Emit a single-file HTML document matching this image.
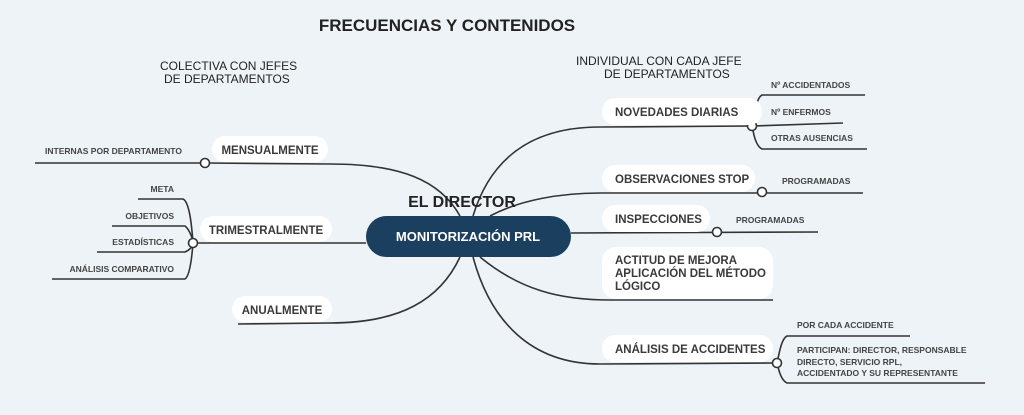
<!DOCTYPE html>
<html><head><meta charset="utf-8"><style>
body{margin:0;background:#eef3f7;}
svg{display:block;font-family:"Liberation Sans",sans-serif;}
.p{fill:#fff;}
.t{font-size:11.5px;font-weight:bold;fill:#3a3a3a;}
.s{font-size:8.5px;font-weight:bold;fill:#444;}
.l{fill:none;stroke:#333;stroke-width:1.6;}
.c{fill:#fff;stroke:#333;stroke-width:1.6;}
</style></head><body>
<svg width="1024" height="415" viewBox="0 0 1024 415">
<rect width="1024" height="415" fill="#eef3f7"/>
<text x="447" y="31" text-anchor="middle" font-size="17" font-weight="bold" fill="#222">FRECUENCIAS Y CONTENIDOS</text>
<text x="160" y="70" font-size="12" fill="#222">COLECTIVA CON JEFES</text>
<text x="164" y="83" font-size="12" fill="#222">DE DEPARTAMENTOS</text>
<text x="576" y="65" font-size="12" fill="#222">INDIVIDUAL CON CADA JEFE</text>
<text x="604" y="78" font-size="12" fill="#222">DE DEPARTAMENTOS</text>

<!-- connectors -->
<path class="l" d="M460 216 C440 180 400 164 330 164 L205 163"/>
<path class="l" d="M366 243 L193 243"/>
<path class="l" d="M460 257 C440 300 400 323 330 323 L238 324"/>
<path class="l" d="M473 216 C490 160 530 127 600 127 L752 126"/>
<path class="l" d="M490 216 C520 200 560 193 600 193 L863 193"/>
<path class="l" d="M571 233 L818 232"/>
<path class="l" d="M480 257 C520 290 560 300 610 300 L773 300"/>
<path class="l" d="M473 257 C490 320 530 364 600 364 L777 363"/>

<!-- sub branches -->
<path class="l" d="M35 163 L205 163"/>
<path class="l" d="M138 199 L183 199 C190 202 192 230 193 243 C192 256 190 276 185 279 L52 279"/>
<path class="l" d="M112 226 L185 226 C190 230 193 240 193 243"/>
<path class="l" d="M97 252 L185 252 C190 250 193 246 193 243"/>
<path class="l" d="M865 95 L762 95 C756 98 754 116 752 126 C754 136 756 146 762 149 L867 149"/>
<path class="l" d="M843 123 L752 126"/>
<path class="l" d="M910 336 L787 336 C781 339 779 355 777 363 C779 371 781 380 787 383 L985 383"/>

<circle class="c" cx="205" cy="163" r="4.5"/>
<circle class="c" cx="193" cy="243" r="4.5"/>
<circle class="c" cx="752" cy="126" r="4.5"/>
<circle class="c" cx="762" cy="192" r="4.5"/>
<circle class="c" cx="717" cy="232" r="4.5"/>
<circle class="c" cx="777" cy="363" r="4.5"/>

<!-- pills -->
<rect class="p" x="212" y="136" width="116" height="26" rx="13"/>
<text class="t" x="270" y="154" text-anchor="middle">MENSUALMENTE</text>
<rect class="p" x="200" y="216" width="132" height="26" rx="13"/>
<text class="t" x="266" y="234" text-anchor="middle">TRIMESTRALMENTE</text>
<rect class="p" x="232" y="296" width="100" height="26" rx="13"/>
<text class="t" x="282" y="314" text-anchor="middle">ANUALMENTE</text>

<rect class="p" x="602" y="98" width="160" height="27" rx="13"/>
<text class="t" x="615" y="116">NOVEDADES DIARIAS</text>
<rect class="p" x="602" y="165" width="153" height="27" rx="13"/>
<text class="t" x="615" y="183">OBSERVACIONES STOP</text>
<rect class="p" x="602" y="205" width="108" height="27" rx="13"/>
<text class="t" x="615" y="223">INSPECCIONES</text>
<rect class="p" x="602" y="247" width="171" height="52" rx="14"/>
<text class="t" x="615" y="264">ACTITUD DE MEJORA</text>
<text class="t" x="615" y="277">APLICACIÓN DEL MÉTODO</text>
<text class="t" x="615" y="290">LÓGICO</text>
<rect class="p" x="602" y="335" width="171" height="27" rx="13"/>
<text class="t" x="615" y="353">ANÁLISIS DE ACCIDENTES</text>

<!-- small labels -->
<text class="s" x="45" y="154">INTERNAS POR DEPARTAMENTO</text>
<text class="s" x="174" y="192" text-anchor="end">META</text>
<text class="s" x="174" y="219" text-anchor="end">OBJETIVOS</text>
<text class="s" x="174" y="245" text-anchor="end">ESTADÍSTICAS</text>
<text class="s" x="174" y="272" text-anchor="end">ANÁLISIS COMPARATIVO</text>
<text class="s" x="771" y="88">Nº ACCIDENTADOS</text>
<text class="s" x="771" y="115">Nº ENFERMOS</text>
<text class="s" x="771" y="141">OTRAS AUSENCIAS</text>
<text class="s" x="782" y="184">PROGRAMADAS</text>
<text class="s" x="736" y="223">PROGRAMADAS</text>
<text class="s" x="797" y="328">POR CADA ACCIDENTE</text>
<text class="s" x="797" y="353">PARTICIPAN: DIRECTOR, RESPONSABLE</text>
<text class="s" x="797" y="365">DIRECTO, SERVICIO RPL,</text>
<text class="s" x="797" y="376">ACCIDENTADO Y SU REPRESENTANTE</text>

<!-- center -->
<text x="462" y="207" text-anchor="middle" font-size="16" font-weight="bold" fill="#222">EL DIRECTOR</text>
<rect x="366" y="216" width="205" height="41" rx="20.5" fill="#1b3f5e"/>
<text x="468" y="241" text-anchor="middle" font-size="13" font-weight="bold" fill="#fff">MONITORIZACIÓN PRL</text>
</svg>
</body></html>
